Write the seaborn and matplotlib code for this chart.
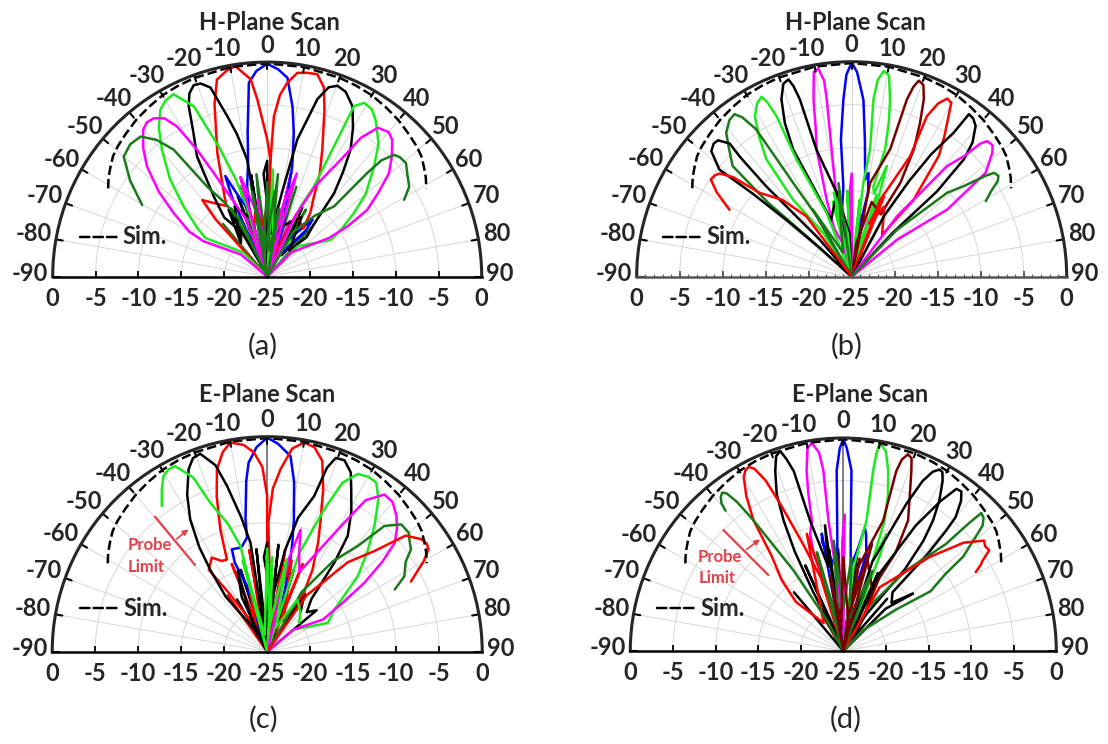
import numpy as np
import matplotlib
matplotlib.use("Agg")
import matplotlib.pyplot as plt
import seaborn as sns

sns.set_style("white")
plt.rcParams['font.family'] = ['Lato', 'DejaVu Sans']

BLUE = '#0000ff'
RED = '#ff0000'
BLACK = '#000000'
LIME = '#1ee81e'
MAG = '#ff00ff'
DKGREEN = '#1a7a1a'
MAROON = '#7a0000'
PROBE_RED = '#e5404a'

ANGLE_TICKS = list(range(-90, 91, 10))
RADIAL_TICKS = [0, -5, -10, -15, -20]
DASH = (0, (3.8, 1.6))

# simulated scan envelope (dB vs angle)
sim_theta = [-61, -58, -55, -52, -49, -45, -40, -35, -30, -25, -20, -10, 0,
             10, 20, 25, 30, 35, 40, 45, 49, 52, 55, 58, 61]
sim_gain = [-3.8, -3.2, -2.7, -2.2, -1.9, -1.6, -1.2, -0.9, -0.6, -0.45, -0.35, -0.2, -0.15,
            -0.2, -0.35, -0.45, -0.6, -0.9, -1.2, -1.6, -1.9, -2.2, -2.7, -3.2, -3.8]

# ---------------- (a) H-plane, array 1 ----------------
a_colors = [DKGREEN, BLACK, MAG, LIME,
            BLUE, RED, RED, BLACK, BLACK, LIME, LIME, MAG, MAG, DKGREEN, DKGREEN]
a_theta = [
    [-40, -33, -28, -22, -17, -12, -6, 0, 6, 12, 18, 24, 30, 36, 42],
    [-38, -30, -26, -20, -14, -9, -4, 2, 8, 14, 20, 27, 34, 40],
    [-20, -15, -10, -7, -3, 3, 8, 13, 17, 22],
    [-30, -25, -18, -10, -5, 2, 10, 16, 24, 33],
    [-20, -24, -22.6, -19, -15, -12.5, -9.5, -7.7, -5.4, -3, 0, 3, 5.8, 8.5, 10.5, 12.8, 14, 17, 22, 30, 38.5, 40, 30, 10, 5],
    [-15, -42, -40.3, -36, -30, -28, -22, -17, -14.3, -11, -8.6, -6.5, -4.8, -3.2, 0, 1.6, 1, -5, -10, -18, -3],
    [-8, 2, 1.5, 2.4, 4, 5.9, 8.4, 11, 13.9, 16.7, 19, 23.5, 27, 30.3, 34, 37, 25, 18, 10, 20, 5],
    [-5, -9.7, -12, -14, -16.7, -19, -21, -23, -24.7, -27, -30.3, -33.7, -36, -30, -38, -25, -15, -20],
    [3, 0, -2, 5, 10, 12.4, 15.8, 18, 20.2, 23, 26.6, 30, 33.3, 36, 38.7, 42, 45, 40, 30, 15, 25],
    [-8, -16, -18, -20.2, -23.3, -27.2, -30, -32.6, -36, -39.7, -45, -50, -55, -58, -45, -30, 3, 8, -10],
    [15, 25.5, 27.4, 27.1, 27, 29.2, 32, 34.7, 40, 44.1, 50, 53.8, 58, 60, 45, 20, 10, 15],
    [-10, -20, -27.3, -29, -31, -33, -35.6, -38, -40.2, -44, -47.5, -52, -55.8, -60, -61, -50, -25, -15, -10, 0],
    [15, 25, 28, 32.2, 34, 36.6, 40, 42.4, 46, 49.7, 53, 56.3, 58, 58, 45, 30, 16, 12, 5],
    [20, 10, 5, 0, -5, -10, -15, -25, -30, -33.7, -36.4, -39, -42.1, -46, -50.1, -55, -60.2],
    [-20, -10, -5, 5, 10, 15, 30, 38, 43.6, 44, 44.5, 46.2, 48, 50.7, 54, 57.6, 59, 60.7],
]
a_gain = [
    [-17, -25, -16, -24, -14, -23, -13, -22, -13, -23, -14, -24, -16, -25, -17],
    [-20, -16, -24, -15, -24, -13, -24, -14, -24, -15, -24, -16, -22, -18],
    [-25, -13, -24, -16, -24, -17, -24, -12.5, -24, -18],
    [-25, -17, -24, -14, -24, -12.5, -24, -14, -24, -18],
    [-25, -15, -12.3, -15.5, -17, -14.2, -11.5, -8, -2.3, -1, -0.2, -0.8, -1.7, -5, -8, -11.8, -15.4, -18, -23, -20, -16.5, -18, -22, -21, -25],
    [-25, -16, -13.3, -14.4, -15.5, -14.4, -9.5, -4, -1.3, -0.5, -0.2, -1.2, -1.9, -4.3, -9, -11.4, -16, -19, -17, -20, -25],
    [-25, -17, -12, -6.3, -3.8, -2.3, -1.0, -0.8, -0.7, -2.0, -4.5, -8.9, -11.5, -14.2, -16, -18, -17, -22, -18, -23, -25],
    [-25, -11.2, -8, -5.7, -2.0, -1.2, -1.1, -1.8, -3.1, -6, -8.8, -13.8, -16.5, -19, -20, -16, -18, -25],
    [-25, -11.5, -13, -20, -15, -8.6, -3.5, -1.8, -1.3, -1.6, -2.8, -5, -7.3, -10, -12.5, -17, -18.5, -21, -17, -19, -25],
    [-25, -16.5, -13, -9.2, -3.4, -1.1, -1.3, -1.9, -3.5, -5.8, -9, -12.3, -15, -16.5, -21, -25, -12.5, -20, -25],
    [-25, -16, -13.2, -6.2, -2.7, -1.8, -2.0, -2.8, -4.8, -7.1, -10, -12.5, -15, -16.5, -20, -25, -17, -25],
    [-25, -18, -11.4, -8, -4.6, -3, -2.3, -2.2, -2.6, -4.2, -6.0, -9, -11.8, -14.5, -16.5, -21, -25, -13, -17, -25],
    [-25, -17, -13, -8.9, -5.5, -3.4, -3.0, -3.4, -4.8, -6.4, -8.8, -11, -14, -16.5, -21, -25, -12.5, -17, -25],
    [-25, -17, -22, -14, -21, -15, -25, -18, -15, -12.4, -6.6, -4.5, -3.0, -2.8, -3.2, -5.5, -8.2],
    [-25, -16, -22, -15, -20, -25, -19, -16, -13.7, -8.2, -6, -4.5, -4.2, -4.1, -4.8, -5.4, -6, -6.7],
]

# ---------------- (b) H-plane, array 2 ----------------
b_colors = [MAG, LIME,
            BLUE, MAG, LIME, BLACK, MAROON, LIME, RED, DKGREEN, BLACK, BLACK, MAG, RED, DKGREEN]
b_theta = [
    [-15, -10, -5, -2, 0, 3, 7, 12, 16],
    [-20, -14, -8, -3, 2, 6, 11, 17, 22],
    [-10, -8, -5.3, -4.5, -2.7, -1.5, 0, 1.5, 3.8, 5.5, 7.9, 9.2, 11, 8, 3],
    [3, 0, -5, -11, -9, -8, -8, -9.1, -10.5, -12.2, -13.5, -15.4, -18, -20, -15, -5],
    [3, 7.1, 8.2, 7, 7.5, 8.8, 10.5, 12.2, 13.5, 14.7, 13.5, 15, 17.6, 19, 12, 5],
    [-5, -8.7, -15.5, -16.3, -17, -17.8, -19.5, -21.6, -23.5, -24.7, -23.1, -20, -10, -3, -12],
    [5, 11.1, 16.8, 17.3, 18, 18.9, 20.5, 22.1, 24, 26, 27.4, 25, 15, 8, 12],
    [-15, -21.5, -25.2, -25.1, -25.8, -26.6, -28.5, -31.1, -33.5, -36, -37.3, -33, -20, -12, -5, -10],
    [12, 20.3, 25.9, 25.1, 26.5, 28.2, 29.8, 31.1, 33.5, 35.8, 38.8, 36, 25, 18, 22, 10],
    [-25, -30, -32, -32.5, -33, -34.5, -35.8, -38, -41.1, -44, -47.1, -48.5, -48, -45, -30, -20, -8, -15],
    [22, 28, 31, 33, 35.3, 35.8, 37.5, 39.4, 42, 43.7, 45, 43, 35],
    [-35, -40.8, -43.4, -43, -42.5, -44.4, -46, -48.2, -51, -50, -49, -48, -45],
    [30, 36.9, 40.8, 43, 44, 45, 47, 48.6, 52.2, 54.9, 50.8, 45],
    [-30, -36.9, -42, -47.7, -50, -52, -53.5, -55.4, -58, -61.3],
    [35, 44, 48.7, 51.1, 53, 53.9, 55.5, 56.8, 58.5, 60.6],
]
b_gain = [
    [-25, -15, -24, -16, -13, -24, -17, -24, -18],
    [-25, -16, -24, -15, -24, -16, -24, -15, -25],
    [-25, -17, -14.5, -9, -4.4, -1.5, -0.1, -1.2, -4.4, -9, -13.6, -12.8, -15, -20, -25],
    [-25, -16, -22, -15.9, -10.1, -4.2, -2, -0.5, -0.8, -4.0, -7, -9.7, -15.6, -19, -21, -25],
    [-25, -14, -10, -4.2, -2, -0.8, -1.2, -3.9, -6.5, -9.7, -14.2, -15, -11.5, -16, -21, -25],
    [-25, -15.9, -9.7, -3.5, -1.8, -0.9, -1.2, -2.8, -5.5, -8.7, -13.6, -18, -15, -20, -25],
    [-25, -13.9, -9.5, -3.4, -1.8, -0.9, -1.2, -2.7, -5.5, -8.5, -12.7, -17, -16, -21, -25],
    [-25, -17, -9.9, -4.4, -2.5, -1.6, -2.0, -3.2, -5.5, -8.1, -13.7, -19, -25, -15, -20, -25],
    [-25, -15.5, -9.4, -4.4, -2.5, -1.5, -1.7, -3.2, -5.5, -7.7, -13.5, -19, -16, -18.5, -15, -25],
    [-25, -17, -12, -8.8, -4.5, -2.5, -1.7, -1.9, -2.8, -4.5, -6.1, -12, -18, -25, -16, -22, -14, -25],
    [-25, -17, -12, -8, -4.5, -1.7, -1.8, -2.3, -4, -6.1, -11, -18, -25],
    [-25, -19.3, -10.5, -6, -4, -2.8, -2.7, -3.1, -5.2, -10, -15, -20, -25],
    [-25, -16.2, -8, -5.8, -3.5, -2.7, -2.6, -3.2, -5.3, -11.4, -18.2, -25],
    [-25, -16.2, -13, -10.5, -7, -5.5, -5.2, -5.1, -6.5, -8.8],
    [-25, -17.4, -10.2, -8.2, -5.5, -4.5, -4.3, -4.7, -6, -7.1],
]

# ---------------- (c) E-plane, array 1 ----------------
c_colors = [RED, BLACK,
            BLUE, RED, RED, BLACK, BLACK, LIME, LIME, MAG, DKGREEN, RED, LIME]
c_theta = [
    [-35, -28, -22, -16, -10, -5, 0, 5, 10, 16, 22, 28, 34],
    [-30, -24, -18, -12, -6, 0, 6, 12, 18, 25, 33, 40],
    [-3, -17, -20, -19, -15.3, -13.4, -10, -9.3, -7, -5.6, -3, 0, 3, 6.8, 9, 11.4, 13, 14.9, 17, 10],
    [0, 0, 0, -1.5, -3.8, -6.5, -10, -12.5, -15.4, -18, -21, -23.6, -26.6, -30.5, -35.5, -33, -25, -15, -20],
    [5, 1.5, 0.5, 2, 4.2, 7, 10, 13, 16.1, 19, 22, 25, 28.9, 32, 28, 15, 8, 12],
    [-3, -8.7, -11, -13.6, -15.5, -18.7, -21, -23.3, -27, -30.2, -33, -34.8, -37, -30, -20, -25, -10],
    [2, 0, -2, 5, 10, 13, 16.8, 18, 19.5, 22, 25, 27.3, 31, 34.8, 37, 40, 45, 50, 35],
    [10, 3, 5, -5, -14.2, -17, -20.9, -23, -26.4, -28.5, -30.6, -33, -35.9],
    [10, 18, 21.8, 24, 27, 30, 32.8, 36, 40.5, 45, 50.2, 55, 58, 64.7, 50, 30],
    [5, 13, 15.3, 18, 22, 30.4, 33, 36.7, 40, 43.6, 46.5, 49.5, 52, 54.7, 57, 60, 50, 30],
    [20, 30, 36, 40.6, 43, 46.5, 50, 52, 54.6, 57, 61.2, 64],
    [20, 35, 42, 46.8, 50, 53.9, 56, 57.6, 60, 62, 64],
    [-25, -15, -8, 0, 5, 12, 20, 30, 40, 48],
]
c_gain = [
    [-17, -25, -14, -24, -13, -24, -12.5, -24, -13, -24, -14, -24, -17],
    [-18, -25, -15, -24, -13, -24, -12.5, -24, -15, -24, -17, -19],
    [-25, -17, -14, -12.4, -12.5, -12.4, -11.5, -9.4, -5, -2.9, -1.2, -0.1, -0.8, -2.1, -5, -9.3, -12, -15.1, -19, -25],
    [-25, -12, -6.9, -3.5, -1.8, -0.8, -0.3, -1.2, -3.0, -6, -9.8, -13.3, -13.2, -12.3, -13.3, -17, -22, -17, -25],
    [-25, -15, -10, -6, -3.7, -1.2, -0.3, -0.6, -1.9, -5, -8.4, -11, -14.1, -17, -21, -14, -20, -25],
    [-25, -12.2, -9, -5.2, -2.5, -0.7, -0.9, -1.9, -4.5, -7.2, -10.5, -13.4, -17, -22, -15, -18, -25],
    [-25, -12.3, -14, -19, -13, -9, -6.1, -2.5, -1.1, -1.0, -2.0, -3.7, -6, -8.6, -12, -17, -18.5, -17.5, -25],
    [-25, -14, -20, -25, -12.3, -9.5, -6.5, -3, -0.9, -0.9, -1.3, -2.5, -4.1],
    [-25, -13, -7.2, -3.5, -1.8, -1.5, -1.6, -3, -5.8, -8.5, -11.3, -14.5, -15.8, -17.2, -21, -25],
    [-25, -14, -10.3, -13, -15, -8.1, -4, -2.2, -2.3, -3.2, -4.2, -5.5, -8, -11.2, -14.5, -17.5, -21, -25],
    [-25, -17, -12, -8.8, -5, -3.5, -3.5, -4, -4.5, -5.8, -6.8, -8.5],
    [-25, -17, -11, -7.9, -4, -2.8, -2.6, -2.8, -4, -5.3, -6.4],
    [-25, -14, -23, -13, -22, -14, -22, -18, -19, -20],
]

# ---------------- (d) E-plane, array 2 ----------------
d_colors = [MAROON, BLACK,
            BLUE, MAG, LIME, BLACK, MAROON, RED, BLACK, BLACK, DKGREEN, DKGREEN, RED, DKGREEN, MAROON]
d_theta = [
    [-30, -22, -15, -8, -3, 3, 10, 18, 26, 35],
    [-40, -32, -24, -16, -8, 0, 8, 16, 24, 32, 40],
    [-8, -10.4, -11, -9, -5, -3.7, -3, -2.1, -1, 0, 1, 2.6, 3.7, 5, 8, 9.9, 11, 13.4, 10, 5],
    [3, 0.5, -0.5, -3, -5, -6.5, -6.3, -7, -8.6, -10, -11.5, -12.5, -13.6, -15.8, -17, -14.5, -10],
    [3, 7, 10.1, 9.4, 9.5, 9.9, 12, 14, 16, 17.6, 18, 20.2, 21, 15],
    [-5, -8.3, -10, -14.3, -15.4, -16.5, -17.5, -19, -20.7, -23, -24.6, -26, -27, -20],
    [5, 10, 17, 16.4, 17, 18.2, 19.5, 20.7, 23, 26.4, 28, 25, 15, 8, 3],
    [-10, -17, -21, -23.2, -24.5, -26, -27.2, -28.5, -29.8, -32, -34.5, -37, -41, -44, -35, -17.3, -12, -18],
    [10, 18, 23.2, 25, 26.5, 27.9, 29, 30.3, 32.5, 34.5, 36, 37, 32, 20],
    [15, 25, 30, 33, 34.9, 36.5, 38.1, 40, 40.5, 41, 40, 45, 50.5, 45, 30],
    [-20, -28, -31.7, -34.5, -35.5, -36.5, -37.4, -38.5, -39.5, -40],
    [20, 30, 38, 43.8, 44.5, 45, 46.5, 48, 48.9, 51.8, 53, 55.6, 52, 43.6, 30],
    [15, 29.7, 42.6, 48, 51.9, 53.5, 55.4, 57, 58, 59.2],
    [-25, -15, -10, -5, 0, 5, 10, 20, 30],
    [-20, -10, -5, 0, 8, 15, 25],
]
d_gain = [
    [-20, -25, -14, -24, -13, -24, -14, -24, -15, -22],
    [-16, -25, -14, -24, -13, -24, -13, -24, -15, -24, -17],
    [-25, -11, -12, -13.5, -15, -14, -11.6, -3.8, -1.2, -0.1, -1.2, -3.8, -11.6, -15, -13, -10.3, -11, -13.3, -19, -25],
    [-25, -9, -12, -20, -16, -9.6, -3.7, -1.5, -0.3, -0.8, -3.4, -6, -9.3, -10.7, -13, -18, -25],
    [-25, -15, -9.5, -3.6, -1.5, -0.2, -1.0, -3.2, -6, -9.0, -14, -10.4, -13, -25],
    [-25, -10.1, -15, -9.2, -3.1, -1.5, -0.4, -0.8, -2.4, -5, -8.2, -12, -17, -25],
    [-25, -15, -9.0, -3.0, -1.5, -0.7, -1.0, -2.4, -5, -7.9, -12, -17, -14, -19, -25],
    [-25, -16, -11, -6.2, -3, -1.2, -0.7, -0.9, -1.5, -3.5, -6.4, -11, -14, -17, -21, -10.6, -20, -25],
    [-25, -14, -6.2, -3, -1.5, -0.9, -1.0, -1.9, -4, -6.4, -9, -13, -20, -25],
    [-25, -15, -8, -4, -1.8, -1.7, -2.6, -4.5, -6.4, -10, -16, -17, -14.4, -18, -25],
    [-25, -20.9, -13.9, -6.4, -3.5, -2, -1.6, -1.9, -2.5, -3.5],
    [-25, -19, -13, -7.6, -4, -2.1, -2.3, -3, -4.1, -7.1, -10, -12.6, -17, -21.6, -25],
    [-25, -16.4, -10, -6, -4.0, -4.3, -4.2, -5.5, -6, -6.9],
    [-25, -13, -22, -12, -20, -14, -21, -15, -25],
    [-25, -16, -22, -14, -21, -12, -25],
]

# geometry in image pixels: centre x, baseline y, outer radius
panels = [
    dict(title="H-Plane Scan", tag="(a)", colors=a_colors, theta=a_theta, gain=a_gain,
         geom=(267.2, 276.6, 214.5), title_xy=(269, 22.5), tag_xy=(262.5, 346.5),
         sim=(80, 118, 237, 122), probe=None, minor=False, vline=False),
    dict(title="H-Plane Scan", tag="(b)", colors=b_colors, theta=b_theta, gain=b_gain,
         geom=(851.7, 276.7, 215), title_xy=(855, 23), tag_xy=(847, 346.5),
         sim=(663, 702, 237, 706), probe=None, minor=True, vline=False),
    dict(title="E-Plane Scan", tag="(c)", colors=c_colors, theta=c_theta, gain=c_gain,
         geom=(267.2, 651.7, 215), title_xy=(267.5, 395), tag_xy=(264, 719),
         sim=(80, 118, 608, 123),
         probe=((155, 516.7), (195, 565), (176.7, 539), (188.3, 529.3), (128, 545), (128, 566.7)),
         minor=False, vline=True),
    dict(title="E-Plane Scan", tag="(d)", colors=d_colors, theta=d_theta, gain=d_gain,
         geom=(843.3, 651, 213), title_xy=(860, 395), tag_xy=(846, 719),
         sim=(657, 695, 608, 700),
         probe=((723.3, 530), (768.3, 575), (746.7, 549.3), (760, 539.3), (698, 556.7), (699, 578)),
         minor=False, vline=True),
]

W, H = 1108, 744
fig = plt.figure(figsize=(W / 100, H / 100), dpi=100)


def fp(pt):
    # image pixel (from top) -> figure pixel (from bottom)
    return (pt[0], H - pt[1])


for p in panels:
    cx, cy, R = p["geom"]
    # the half-disc sits in the middle of a square box of side 2R
    box = [(cx - R) / W, (H - cy - 0.5 * R) / H, 2 * R / W, 2 * R / H]
    ax = fig.add_axes(box, projection="polar")
    ax.set_theta_zero_location("N")
    ax.set_theta_direction(-1)
    ax.set_thetamin(-90)
    ax.set_thetamax(90)

    # beams
    for col, th, g in zip(p["colors"], p["theta"], p["gain"]):
        sns.lineplot(x=np.deg2rad(th), y=g, sort=False, estimator=None,
                     color=col, lw=1.8, ax=ax)
    # simulated envelope
    ax.plot(np.deg2rad(sim_theta), sim_gain, color="k", lw=1.8, ls=DASH)

    if p["vline"]:
        ax.plot([0, 0], [-25, 0], color="#7f7f7f", lw=1.4, zorder=1)

    ax.set_rlim(-25, 0)
    ax.set_xticks(np.deg2rad(ANGLE_TICKS))
    ax.set_xticklabels([])
    ax.set_yticks([-20, -15, -10, -5])
    ax.set_yticklabels([])
    ax.tick_params(length=0)
    ax.grid(True, color="#d6d6d6", lw=0.7)
    ax.set_xlabel("")
    ax.set_ylabel("")
    ax.spines["polar"].set_linewidth(2.2)
    base_col = "#555555" if p["minor"] else "k"
    for s in ("start", "end"):
        ax.spines[s].set_linewidth(1.8)
        ax.spines[s].set_color(base_col)

    # outer angular ticks
    for t in ANGLE_TICKS:
        ax.plot([np.deg2rad(t)] * 2, [-0.8, 0], color="k", lw=1.5, clip_on=False)

    # baseline ticks
    for side in (-90, 90):
        ax.plot([np.deg2rad(side)] * 4, [-20, -15, -10, -5], ls="none", marker=2,
                ms=4, mew=1.3, color=base_col, clip_on=False)
        if p["minor"]:
            ax.plot([np.deg2rad(side)] * 24, list(range(-24, 0)), ls="none", marker=2,
                    ms=2.5, mew=0.8, color="#555555", clip_on=False)

    # angular labels
    for t in ANGLE_TICKS:
        s, c = np.sin(np.deg2rad(t)), np.cos(np.deg2rad(t))
        dx = 18.5 * s - (4 if t < 0 else 0)
        dy = 13.5 * c + 3.5
        ax.annotate(str(t), xy=(np.deg2rad(t), 0), xytext=(dx, dy),
                    textcoords="offset pixels", ha="center", va="center",
                    fontsize=17, fontweight="bold", annotation_clip=False)

    # radial labels along the baseline
    for r in RADIAL_TICKS:
        for side in (-90, 90):
            ax.annotate(str(r), xy=(np.deg2rad(side), r), xytext=(0, -22),
                        textcoords="offset pixels", ha="center", va="center",
                        fontsize=17, fontweight="bold", annotation_clip=False)
    ax.annotate("-25", xy=(0, -25), xytext=(0, -22), textcoords="offset pixels",
                ha="center", va="center", fontsize=17, fontweight="bold",
                annotation_clip=False)

    # Sim. legend
    x0, x1, yy, xt = p["sim"]
    ax.annotate("", xy=fp((x1, yy)), xytext=fp((x0, yy)), xycoords="figure pixels",
                arrowprops=dict(arrowstyle="-", color="k", lw=1.8, ls=DASH,
                                shrinkA=0, shrinkB=0))
    ax.annotate("Sim.", xy=fp((xt, yy)), xycoords="figure pixels", ha="left",
                va="center", fontsize=17, fontweight="bold")

    # probe limit
    if p["probe"] is not None:
        l0, l1, a0, a1, t0, t1 = p["probe"]
        ax.annotate("", xy=fp(l1), xytext=fp(l0), xycoords="figure pixels",
                    arrowprops=dict(arrowstyle="-", color=PROBE_RED, lw=1.6,
                                    shrinkA=0, shrinkB=0))
        ax.annotate("", xy=fp(a1), xytext=fp(a0), xycoords="figure pixels",
                    arrowprops=dict(arrowstyle="-|>", color=PROBE_RED, lw=1.2,
                                    mutation_scale=8, shrinkA=0, shrinkB=0))
        ax.annotate("Probe", xy=fp(t0), xycoords="figure pixels", ha="left", va="center",
                    color=PROBE_RED, fontsize=12, fontweight="bold")
        ax.annotate("Limit", xy=fp(t1), xycoords="figure pixels", ha="left", va="center",
                    color=PROBE_RED, fontsize=12, fontweight="bold")

    fig.text(p["title_xy"][0] / W, 1 - p["title_xy"][1] / H, p["title"],
             ha="center", va="center", fontsize=17, fontweight="bold")
    fig.text(p["tag_xy"][0] / W, 1 - p["tag_xy"][1] / H, p["tag"],
             ha="center", va="center", fontsize=21)

fig.savefig("out.png", dpi=100)
